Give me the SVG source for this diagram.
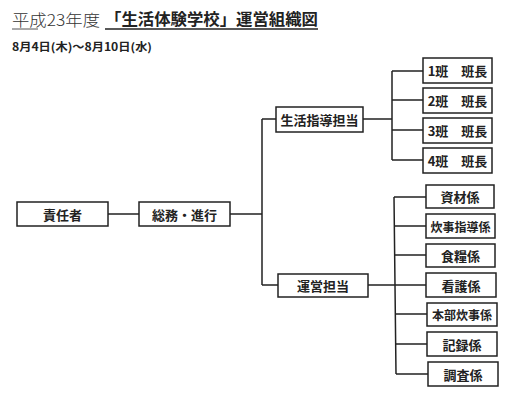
<svg xmlns="http://www.w3.org/2000/svg" width="510" height="411" viewBox="0 0 510 411">
<style>
.bx{fill:#fff;stroke:#222;stroke-width:1.5}
.t{font-family:"Noto Sans CJK JP","Noto Sans",sans-serif;font-size:13px;font-weight:bold;fill:#222;text-anchor:middle;dominant-baseline:central}
.s{font-size:12px}
.ln{fill:none;stroke:#222;stroke-width:1.5}
</style>
<rect width="510" height="411" fill="#fff"/>
<g id="title">
<text x="12" y="26" font-family="'Noto Sans CJK JP',sans-serif" font-size="16" font-weight="300" fill="#333" textLength="88" lengthAdjust="spacingAndGlyphs">平成23年度</text>
<line x1="12" y1="29" x2="38" y2="29" stroke="#555" stroke-width="1"/>
<text x="105" y="25" font-family="'Noto Sans CJK JP',sans-serif" font-size="16" font-weight="bold" fill="#222" textLength="213" lengthAdjust="spacingAndGlyphs">「生活体験学校」運営組織図</text>
<line x1="105" y1="29" x2="318" y2="29" stroke="#222" stroke-width="1.5"/>
<text x="12" y="51" font-family="'Noto Sans CJK JP',sans-serif" font-size="11" font-weight="bold" fill="#222" textLength="140" lengthAdjust="spacingAndGlyphs">8月4日(木)～8月10日(水)</text>
</g>
<g id="connectors">
<path class="ln" d="M108 214H139M230 214H262M262 119V285M262 119H276M262 285H278"/>
<path class="ln" d="M363 119H392M392 71V160M392 71H423M392 100H423M392 130H423M392 160H423"/>
<path class="ln" d="M368 285H395M394 197L396 374M394 197H426M394 226H426M395 255H426M395 285H426M396 314H427M396 344H427M396 374H428"/>
</g>
<g id="n1"><rect class="bx" x="17" y="202" width="91" height="24"/><text class="t" x="62.5" y="214">責任者</text></g>
<g id="n2"><rect class="bx" x="139" y="202" width="91" height="24"/><text class="t" x="184.5" y="214">総務・進行</text></g>
<g id="n3"><rect class="bx" x="276" y="107" width="87" height="25"/><text class="t" x="319.5" y="119.5">生活指導担当</text></g>
<g id="n4"><rect class="bx" x="278" y="274" width="90" height="23"/><text class="t" x="323" y="285.5">運営担当</text></g>
<g id="n5"><rect class="bx" x="423" y="58" width="69" height="25"/><text class="t" x="457.5" y="70.5">1班　班長</text></g>
<g id="n6"><rect class="bx" x="423" y="88" width="69" height="25"/><text class="t" x="457.5" y="100.5">2班　班長</text></g>
<g id="n7"><rect class="bx" x="423" y="118" width="69" height="25"/><text class="t" x="457.5" y="130.5">3班　班長</text></g>
<g id="n8"><rect class="bx" x="423" y="148" width="69" height="25"/><text class="t" x="457.5" y="160.5">4班　班長</text></g>
<g id="n9"><rect class="bx" x="426" y="185" width="68" height="23"/><text class="t" x="460" y="196.5">資材係</text></g>
<g id="n10"><rect class="bx" x="426" y="214" width="69" height="24"/><text class="t s" x="460.5" y="226">炊事指導係</text></g>
<g id="n11"><rect class="bx" x="426" y="244" width="69" height="23"/><text class="t" x="460.5" y="255.5">食糧係</text></g>
<g id="n12"><rect class="bx" x="426" y="273" width="70" height="24"/><text class="t" x="461" y="285">看護係</text></g>
<g id="n13"><rect class="bx" x="427" y="303" width="70" height="23"/><text class="t s" x="462" y="314.5">本部炊事係</text></g>
<g id="n14"><rect class="bx" x="427" y="332" width="70" height="24"/><text class="t" x="462" y="344">記録係</text></g>
<g id="n15"><rect class="bx" x="428" y="362" width="70" height="24"/><text class="t" x="463" y="374">調査係</text></g>
</svg>
